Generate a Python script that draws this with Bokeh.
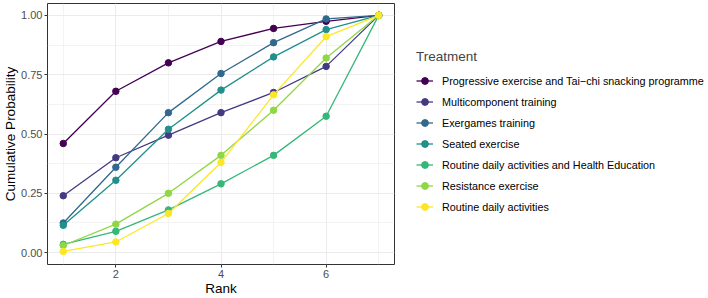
from bokeh.plotting import figure
from bokeh.models import Legend, LegendItem, FixedTicker, ColumnDataSource
from bokeh.layouts import row
from bokeh.embed import file_html
from bokeh.resources import INLINE

ranks = [1, 2, 3, 4, 5, 6, 7]
treatments = [
    "Progressive exercise and Tai\u2212chi snacking programme",
    "Multicomponent training",
    "Exergames training",
    "Seated exercise",
    "Routine daily activities and Health Education",
    "Resistance exercise",
    "Routine daily activities",
]
progressive = [0.46, 0.68, 0.80, 0.89, 0.945, 0.975, 1.0]
multicomponent = [0.24, 0.40, 0.495, 0.59, 0.675, 0.785, 1.0]
exergames = [0.125, 0.36, 0.59, 0.755, 0.885, 0.985, 1.0]
seated = [0.115, 0.305, 0.52, 0.685, 0.825, 0.94, 1.0]
routine_he = [0.035, 0.09, 0.18, 0.29, 0.41, 0.575, 1.0]
resistance = [0.03, 0.12, 0.25, 0.41, 0.60, 0.82, 1.0]
routine = [0.005, 0.045, 0.165, 0.38, 0.665, 0.91, 1.0]
series = [progressive, multicomponent, exergames, seated, routine_he, resistance, routine]
colors = ["#440154", "#443A83", "#31688E", "#21908C", "#35B779", "#8FD744", "#FDE725"]

x_ticks = [2, 4, 6]
y_ticks = [0, 0.25, 0.5, 0.75, 1.0]

LINE_W = 1.3
PT_SIZE = 6.5

p = figure(width=395, height=298, output_backend="svg", toolbar_location=None,
           x_range=(0.7, 7.3), y_range=(-0.05, 1.05),
           min_border_left=0, min_border_top=3, min_border_bottom=0, min_border_right=1)
p.background_fill_color = "white"
p.outline_line_color = "#333333"
p.outline_line_width = 1

p.xaxis.ticker = FixedTicker(ticks=x_ticks, minor_ticks=[1, 3, 5, 7])
p.yaxis.ticker = FixedTicker(ticks=y_ticks, minor_ticks=[0.125, 0.375, 0.625, 0.875])
p.yaxis.major_label_overrides = {0: "0.00", 0.25: "0.25", 0.5: "0.50", 0.75: "0.75", 1.0: "1.00"}
p.xaxis.axis_label = "Rank"
p.yaxis.axis_label = "Cumulative Probability"
for ax in (p.xaxis, p.yaxis):
    ax.axis_line_color = None
    ax.major_tick_line_color = "#333333"
    ax.major_tick_out = 3
    ax.major_tick_in = 0
    ax.minor_tick_line_color = None
    ax.major_label_text_font = "Liberation Sans"
    ax.major_label_text_font_size = "11px"
    ax.major_label_text_color = "#4D4D4D"
    ax.axis_label_text_font = "Liberation Sans"
    ax.axis_label_text_font_size = "13.5px"
    ax.axis_label_text_font_style = "normal"
    ax.axis_label_text_color = "black"
    ax.axis_label_standoff = 0
    ax.major_label_standoff = 1

p.grid.grid_line_color = "#EBEBEB"
p.grid.grid_line_width = 1
p.grid.minor_grid_line_color = "#EBEBEB"
p.grid.minor_grid_line_width = 0.6

for name, vals, col in zip(treatments, series, colors):
    src = ColumnDataSource(dict(x=ranks, y=vals))
    p.line("x", "y", source=src, line_color=col, line_width=LINE_W)
    p.scatter("x", "y", source=src, size=PT_SIZE, fill_color=col, line_color=col)

# legend panel as a separate, axis-free figure (dummy renderers hold no visible data)
nan = float("nan")
lf = figure(width=313, height=298, output_backend="svg", toolbar_location=None,
            x_range=(0, 1), y_range=(0, 1),
            min_border_left=0, min_border_top=0, min_border_bottom=0, min_border_right=0)
lf.axis.visible = False
lf.grid.visible = False
lf.outline_line_color = None
items = []
for name, col in zip(treatments, colors):
    dummy = ColumnDataSource(dict(x=[nan], y=[nan]))
    r1 = lf.line("x", "y", source=dummy, line_color=col, line_width=LINE_W)
    r2 = lf.scatter("x", "y", source=dummy, size=PT_SIZE, fill_color=col, line_color=col)
    items.append(LegendItem(label=name, renderers=[r1, r2]))

legend = Legend(items=items, title="Treatment", location=(21, 49))
legend.title_text_font = "Liberation Sans"
legend.title_text_font_size = "13.5px"
legend.title_text_font_style = "normal"
legend.title_standoff = 8
legend.label_text_font = "Liberation Sans"
legend.label_text_font_size = "10.8px"
legend.label_text_color = "black"
legend.border_line_color = None
legend.background_fill_alpha = 0
legend.glyph_width = 17
legend.glyph_height = 17
legend.label_height = 17
legend.spacing = 4
legend.label_standoff = 9
legend.padding = 6
legend.margin = 0
lf.add_layout(legend, "center")

layout = row(p, lf)
open("out.html", "w").write(file_html(layout, INLINE))
